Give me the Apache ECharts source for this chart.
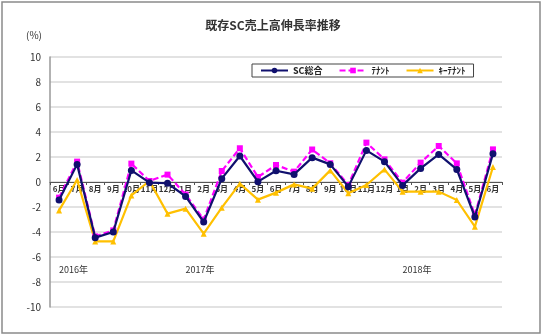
<!DOCTYPE html>
<html><head><meta charset="utf-8">
<script src="https://cdn.jsdelivr.net/npm/echarts@6/dist/echarts.min.js"></script>
<style>html,body{margin:0;padding:0;background:#fff}#c{width:544px;height:335px}</style>
</head><body><div id="c"></div>
<script>
const months = ['6月','7月','8月','9月','10月','11月','12月','1月','2月','3月','4月','5月','6月','7月','8月','9月','10月','11月','12月','1月','2月','3月','4月','5月','6月'];
const yearLabels = ['2016年','','','','','','','2017年','','','','','','','','','','','','2018年','','','','',''];
const scTotal = [-1.44, 1.41, -4.45, -4.0, 0.93, -0.05, -0.1, -1.15, -3.2, 0.27, 2.08, 0.03, 0.9, 0.61, 1.95, 1.41, -0.37, 2.53, 1.63, -0.27, 1.09, 2.21, 1.01, -2.8, 2.27];
const tenant = [-1.25, 1.63, -4.35, -3.87, 1.47, 0.08, 0.59, -1.0, -3.0, 0.88, 2.7, 0.4, 1.36, 0.83, 2.6, 1.5, -0.24, 3.15, 1.81, -0.05, 1.55, 2.88, 1.49, -2.64, 2.61];
const keyTenant = [-2.27, 0.16, -4.75, -4.75, -1.07, 0.08, -2.53, -2.13, -4.13, -2.05, -0.13, -1.41, -0.85, -0.19, -0.53, 0.93, -0.9, -0.24, 1.01, -0.77, -0.77, -0.77, -1.44, -3.57, 1.2];
const yTicks = {min: -10, max: 10, interval: 2};

const font = '"Noto Sans CJK JP", "Noto Sans", sans-serif';
const chart = echarts.init(document.getElementById('c'));
chart.setOption({
  animation: false,
  textStyle: {fontFamily: font},
  title: {text: '既存SC売上高伸長率推移', left: 268, top: 14, textAlign: 'center',
    textStyle: {fontSize: 12, fontWeight: 'bold', color: '#333', fontFamily: font}},
  graphic: [{type: 'rect', shape: {x: 2, y: 2, width: 538, height: 331},
    style: {fill: 'none', stroke: '#8a8a8a', lineWidth: 1.5}, silent: true}],
  legend: {left: 252, top: 64, itemWidth: 27, itemHeight: 7, itemGap: 16,
    padding: [2, 8], borderColor: '#444', borderWidth: 1,
    textStyle: {fontSize: 9, fontWeight: 'bold', color: '#222', fontFamily: font},
    data: ['SC総合', 'ﾃﾅﾝﾄ', 'ｷｰﾃﾅﾝﾄ']},
  grid: {left: 50, right: 42, top: 57, bottom: 28},
  xAxis: [{type: 'category', data: months, boundaryGap: true, position: 'bottom', offset: -125,
    axisLine: {onZero: false, lineStyle: {color: '#555', width: 1}},
    axisTick: {show: true, alignWithLabel: false, length: 3, lineStyle: {color: '#555'}},
    axisLabel: {interval: 0, fontSize: 8, fontWeight: 'bold', color: '#333', margin: 3, fontFamily: font}},
   {type: 'category', data: yearLabels, position: 'top', boundaryGap: true,
    axisLine: {show: false, onZero: false}, axisTick: {show: false},
    axisLabel: {interval: 0, inside: true, margin: 208, fontSize: 9, color: '#333', align: 'left', fontFamily: font}}],
  yAxis: {type: 'value', min: yTicks.min, max: yTicks.max, interval: yTicks.interval,
    name: '(%)', nameLocation: 'end', nameGap: 17,
    nameTextStyle: {fontSize: 10, color: '#333', align: 'right', padding: [0, 8, 0, 0]},
    axisLine: {show: true, onZero: false, lineStyle: {color: '#999', width: 1.5}},
    axisTick: {show: false},
    axisLabel: {fontSize: 10, color: '#333', margin: 9},
    splitLine: {lineStyle: {color: '#d8d8d8', width: 1.5}}},
  series: [
    {name: 'SC総合', type: 'line', data: scTotal, z: 4, symbol: 'circle', symbolSize: 7,
      itemStyle: {color: '#10106e'}, lineStyle: {color: '#10106e', width: 2.2}},
    {name: 'ﾃﾅﾝﾄ', type: 'line', data: tenant, z: 3, symbol: 'rect', symbolSize: 6,
      itemStyle: {color: '#ff00ff'}, lineStyle: {color: '#ff00ff', width: 2.2, type: [6, 3]}},
    {name: 'ｷｰﾃﾅﾝﾄ', type: 'line', data: keyTenant, z: 2, symbol: 'triangle', symbolSize: 6,
      itemStyle: {color: '#ffc000'}, lineStyle: {color: '#ffc000', width: 2.2}}
  ]
});
</script></body></html>
